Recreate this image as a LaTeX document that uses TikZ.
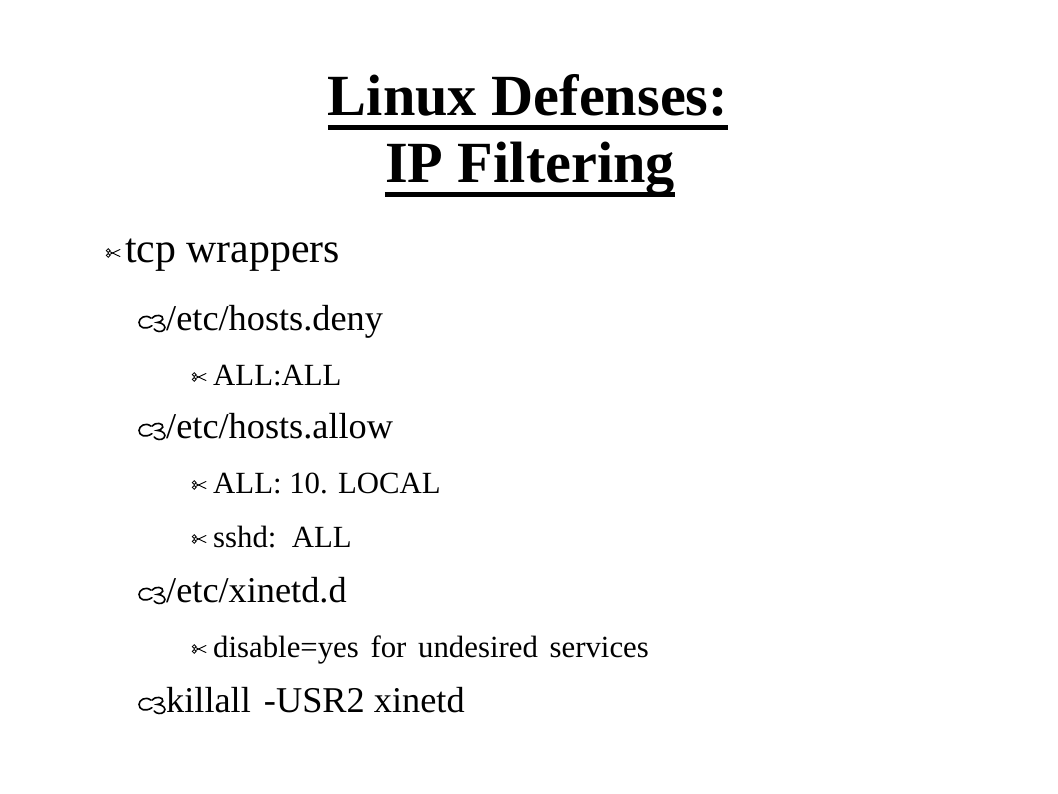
\documentclass[tikz,border=0pt]{standalone}
\usepackage{fontspec}
\setmainfont{Liberation Serif}
\begin{document}
\begin{tikzpicture}[x=1pt,y=-1pt,
  titletext/.style={font=\fontsize{58.3}{58.3}\selectfont\bfseries, anchor=base, inner sep=0pt},
  lone/.style={font=\fontsize{41.8}{41.8}\selectfont, anchor=base west, inner sep=0pt},
  ltwo/.style={font=\fontsize{36.3}{36.3}\selectfont, anchor=base west, inner sep=0pt},
  lthree/.style={font=\fontsize{30.8}{30.8}\selectfont, anchor=base west, inner sep=0pt},
  uline/.style={line width=5pt},
  scissors/.pic={
    % origin = vertical centre, left end
    \draw[line width=0.8pt] (2.2,-2.4) circle (1.9);
    \draw[line width=0.8pt] (2.2,2.4) circle (1.9);
    \draw[line width=0.9pt, line cap=round] (3.8,-1.4) -- (14,3.6);
    \draw[line width=0.9pt, line cap=round] (3.8,1.4) -- (14,-3.6);
  },
  curl/.pic={
    \draw[line width=1.6pt, line cap=round]
      (11,-11) .. controls (6,-15) and (0,-11) .. (0,-7)
      .. controls (0,-2) and (6,0) .. (12,-4);
    \draw[line width=1.6pt, line cap=round]
      (12,-11) .. controls (15,-15) and (23,-14) .. (22,-10)
      .. controls (21,-8) and (19,-7) .. (17,-7)
      .. controls (22,-7) and (26,-3) .. (23,0)
      .. controls (21,2) and (16,2) .. (14,-1);
  }]
\useasboundingbox[fill=white] (0,0) rectangle (1058,793);

% title
\node[titletext] (t1) at (528,115) {Linux Defenses:};
\node[titletext] (t2) at (530,182) {IP Filtering};
\draw[uline] ([yshift=-12.5pt]t1.base west) -- ([yshift=-12.5pt]t1.base east);
\draw[uline] ([yshift=-12.5pt]t2.base west) -- ([yshift=-12.5pt]t2.base east);

% level 1
\pic at (106,253) {scissors};
\node[lone] (r1) at (125,262) {tcp wrappers};

% level 2 and 3
\pic[scale=1.08] at (139,330) {curl};
\node[ltwo] (r2) at (166,330) {/etc/hosts.deny};
\pic at (192,377) {scissors};
\node[lthree] (r3) at (213,385) {ALL:ALL};

\pic[scale=1.08] at (139,438) {curl};
\node[ltwo] (r4) at (166,438) {/etc/hosts.allow};
\pic at (192,485) {scissors};
\node[lthree] (r5) at (213,493) {ALL: 10. LOCAL};
\pic at (192,539) {scissors};
\node[lthree] (r6) at (213,547) {sshd:\ \ ALL};

\pic[scale=1.08] at (139,602) {curl};
\node[ltwo] (r7) at (166,602) {/etc/xinetd.d};
\pic at (192,649) {scissors};
\node[lthree] (r8) at (213,657) {disable=yes\hspace{4pt} for\hspace{4pt} undesired\hspace{4pt} services};

\pic[scale=1.08] at (139,712) {curl};
\node[ltwo] (r9) at (166,712) {killall\hspace{4pt} -USR2 xinetd};
\end{tikzpicture}
\end{document}
